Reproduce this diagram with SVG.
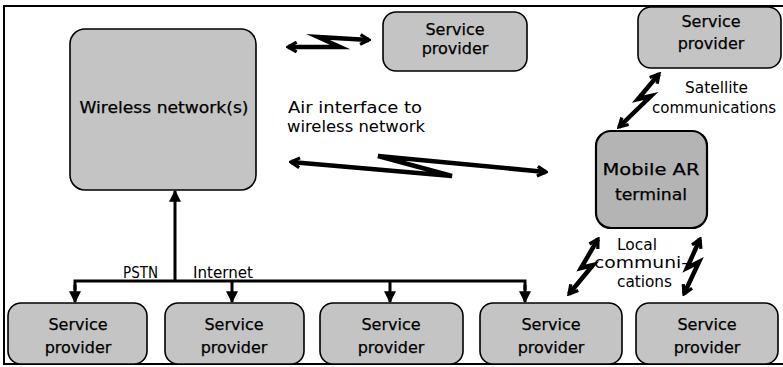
<svg xmlns="http://www.w3.org/2000/svg" width="783" height="367" viewBox="0 0 783 367">
<style>
.box{fill:#c4c4c4;stroke:#000;stroke-width:1.6}
.dark{fill:#b4b4b4;stroke:#000;stroke-width:2.2}
.t{font-family:"DejaVu Sans","Liberation Sans",sans-serif;font-size:16px;fill:#000;stroke:#000;stroke-width:0.25;text-anchor:middle}
.lbl{font-family:"DejaVu Sans","Liberation Sans",sans-serif;font-size:16px;fill:#000}
.bus{fill:none;stroke:#000;stroke-width:3}
.zz{fill:none;stroke:#000;stroke-width:4.5;stroke-linejoin:miter;stroke-miterlimit:10}
</style>
<defs>
<marker id="tri" viewBox="0 0 10 10" refX="9" refY="5" markerWidth="12" markerHeight="13" orient="auto" markerUnits="userSpaceOnUse"><path d="M0,0L10,5L0,10z" fill="#000"/></marker>
<marker id="chev" viewBox="0 0 12 12" refX="10" refY="6" markerWidth="13" markerHeight="13" orient="auto-start-reverse" markerUnits="userSpaceOnUse"><path d="M2,1.5L10,6L2,10.5" fill="none" stroke="#000" stroke-width="3"/></marker>
</defs>
<rect x="4" y="6" width="780" height="358" fill="#fff" stroke="#000" stroke-width="2"/>

<g id="wireless">
<rect class="box" x="70" y="29" width="186" height="161" rx="15"/>
<text class="t" x="164" y="113" font-size="17" textLength="169" lengthAdjust="spacingAndGlyphs">Wireless network(s)</text>
</g>
<g id="sp-top">
<rect class="box" x="383" y="12" width="144" height="59" rx="13"/>
<text class="t" x="455" y="35">Service</text><text class="t" x="455" y="54">provider</text>
</g>
<g id="sp-topright">
<rect class="box" x="638" y="7" width="143" height="61" rx="13"/>
<text class="t" x="711" y="27">Service</text><text class="t" x="711" y="49">provider</text>
</g>
<g id="mobile">
<rect class="dark" x="596" y="131" width="111" height="97" rx="15"/>
<text class="t" x="651" y="175" font-size="21" textLength="97" lengthAdjust="spacingAndGlyphs">Mobile AR</text>
<text class="t" x="651" y="200" font-size="20" textLength="72" lengthAdjust="spacingAndGlyphs">terminal</text>
</g>
<g id="sp-b1">
<rect class="box" x="8" y="303" width="139" height="61" rx="13"/>
<text class="t" x="78" y="330">Service</text><text class="t" x="78" y="353">provider</text>
</g>
<g id="sp-b2">
<rect class="box" x="165" y="303" width="139" height="61" rx="13"/>
<text class="t" x="234" y="330">Service</text><text class="t" x="234" y="353">provider</text>
</g>
<g id="sp-b3">
<rect class="box" x="320" y="303" width="143" height="61" rx="13"/>
<text class="t" x="391" y="330">Service</text><text class="t" x="391" y="353">provider</text>
</g>
<g id="sp-b4">
<rect class="box" x="480" y="303" width="142" height="61" rx="13"/>
<text class="t" x="551" y="330">Service</text><text class="t" x="551" y="353">provider</text>
</g>
<g id="sp-b5">
<rect class="box" x="636" y="303" width="142" height="61" rx="13"/>
<text class="t" x="707" y="330">Service</text><text class="t" x="707" y="353">provider</text>
</g>

<g id="connectors">
<line class="bus" x1="175" y1="281" x2="175" y2="191" marker-end="url(#tri)"/>
<polyline class="bus" points="75,290 75,281 525,281 525,290"/>
<line class="bus" x1="75" y1="285" x2="75" y2="302" marker-end="url(#tri)"/>
<line class="bus" x1="232" y1="281" x2="232" y2="302" marker-end="url(#tri)"/>
<line class="bus" x1="390" y1="281" x2="390" y2="302" marker-end="url(#tri)"/>
<line class="bus" x1="525" y1="285" x2="525" y2="302" marker-end="url(#tri)"/>
<polyline class="zz" points="288,47 340,47 318,37 369,40" marker-start="url(#chev)" marker-end="url(#chev)"/>
<polyline class="zz" points="291,162 452,176 378,156 546,172" marker-start="url(#chev)" marker-end="url(#chev)"/>
<polyline class="zz" points="659,74 638,99 651,96 619,127" marker-start="url(#chev)" marker-end="url(#chev)"/>
<polyline class="zz" points="598,239 581,268 593,265 569,294" marker-start="url(#chev)" marker-end="url(#chev)"/>
<polyline class="zz" points="700,239 687,268 699,262 684,294" marker-start="url(#chev)" marker-end="url(#chev)"/>
</g>

<g id="labels">
<text class="lbl" x="288" y="113" textLength="134" lengthAdjust="spacingAndGlyphs">Air interface to</text>
<text class="lbl" x="287" y="132" textLength="138" lengthAdjust="spacingAndGlyphs">wireless network</text>
<text class="lbl" x="685" y="93" textLength="63" lengthAdjust="spacingAndGlyphs">Satellite</text>
<text class="lbl" x="652" y="113" textLength="124" lengthAdjust="spacingAndGlyphs">communications</text>
<text class="lbl" x="617" y="250" textLength="40" lengthAdjust="spacingAndGlyphs">Local</text>
<text class="lbl" x="594" y="268" textLength="94" lengthAdjust="spacingAndGlyphs">communi-</text>
<text class="lbl" x="617" y="287" textLength="55" lengthAdjust="spacingAndGlyphs">cations</text>
<text class="lbl" x="123" y="278" font-size="15" textLength="35" lengthAdjust="spacingAndGlyphs">PSTN</text>
<text class="lbl" x="193" y="278" font-size="15" textLength="60" lengthAdjust="spacingAndGlyphs">Internet</text>
</g>
</svg>
